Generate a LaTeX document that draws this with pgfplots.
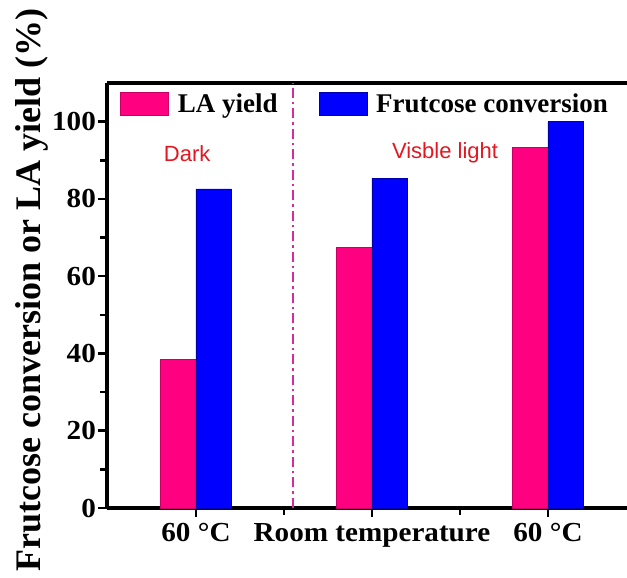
\documentclass[border=0pt]{standalone}
\usepackage{fontspec}
\setmainfont{Liberation Serif}
\newfontfamily\arialfont{Liberation Sans}
\newfontfamily\tickfont[FakeStretch=1.06]{Liberation Serif}
\usepackage{pgfplots}
\pgfplotsset{compat=1.18}
\definecolor{lapink}{RGB}{255,0,128}
\definecolor{lapinkdark}{RGB}{200,0,100}
\definecolor{fcblue}{RGB}{0,0,255}
\definecolor{fcbluedark}{RGB}{0,0,170}
\definecolor{txtred}{RGB}{228,22,32}
\definecolor{sepmag}{RGB}{212,44,160}
\begin{document}
\begin{tikzpicture}
\begin{axis}[
  scale only axis,
  width=520pt, height=425pt,
  xmin=0.4943, xmax=3.449,
  ymin=0, ymax=110,
  axis x line*=box,
  axis y line*=left,
  line width=3.6pt,
  axis line style={line width=3.6pt, black},
  xtick={1,2,3},
  xticklabels={60 °C, Room temperature, 60 °C},
  minor xtick={1.5,2.5},
  ytick={0,20,40,60,80,100},
  minor ytick={10,30,50,70,90},
  xtick pos=left, ytick pos=left,
  tick align=outside,
  major tick length=9pt, minor tick length=7pt,
  tick style={line width=2.6pt, black},
  /pgf/number format/assume math mode=true,
  tick label style={font=\tickfont\fontsize{27.5}{30}\selectfont\bfseries},
  xticklabel style={yshift=-1pt},
  yticklabel style={xshift=3pt},
  ylabel={Frutcose conversion or LA yield (\%)},
  ylabel style={font=\fontsize{36}{40}\selectfont\bfseries, at={(axis description cs:-0.145,0.513)}, anchor=center, rotate=0},
  legend columns=2,
  legend style={draw=none, fill=none, at={(axis description cs:0.022,0.952)}, anchor=west,
    font=\fontsize{27}{30}\selectfont\bfseries, inner sep=0pt,
    nodes={inner sep=0pt},
    /tikz/every odd column/.append style={column sep=9pt},
    /tikz/every even column/.append style={column sep=41pt}},
  legend image code/.code={\draw[#1, line width=0.6pt] (0pt,-11.5pt) rectangle (48pt,11.5pt);},
  clip=false,
]
\addplot[ybar, bar width=0.2, bar shift=-0.1, fill=lapink, draw=lapinkdark, line width=0.6pt]
  coordinates {(1,38.4) (2,67.5) (3,93.3)};
\addlegendentry{LA yield}
\addplot[ybar, bar width=0.2, bar shift=0.1, fill=fcblue, draw=fcbluedark, line width=0.6pt]
  coordinates {(1,82.6) (2,85.4) (3,100.0)};
\addlegendentry{Frutcose conversion}
\addplot[forget plot, sepmag, line width=2pt, dash pattern=on 10pt off 4pt on 2.5pt off 4pt]
  coordinates {(1.55,0) (1.55,110)};
\node[text=txtred, font=\arialfont\fontsize{22}{24}\selectfont] at (axis cs:0.95,91.7) {Dark};
\node[text=txtred, font=\arialfont\fontsize{22}{24}\selectfont] at (axis cs:2.415,92) {Visble light};
\end{axis}
\pgfresetboundingbox
\useasboundingbox (-107pt,-70pt) rectangle (520pt,508pt);
\end{tikzpicture}
\end{document}
